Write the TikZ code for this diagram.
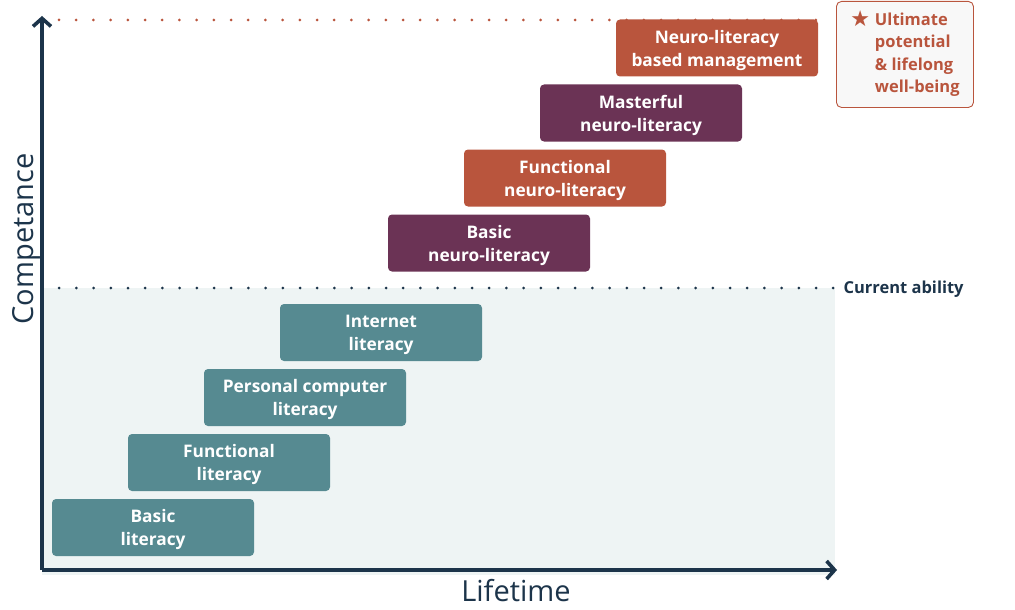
\documentclass[tikz,border=0pt]{standalone}
\usepackage{fontspec}
\setmainfont{Open Sans}
\newfontfamily\symfont{DejaVu Sans}
\usepackage{xcolor}
\usepackage{tikz}
\usetikzlibrary{arrows.meta,positioning}
\definecolor{cnavy}{RGB}{28,52,74}
\definecolor{cteal}{RGB}{86,138,145}
\definecolor{cplum}{RGB}{107,51,85}
\definecolor{crust}{RGB}{185,85,61}
\definecolor{cshade}{RGB}{238,244,244}
\definecolor{cpaper}{RGB}{248,248,248}

\begin{document}
\begin{tikzpicture}[
  x=1pt, y=-1pt,
  font=\fontsize{17.3}{23}\selectfont\bfseries,
  lvl/.style={rounded corners=4pt, text=white, align=center, minimum width=202pt, minimum height=57pt, inner sep=0pt, text height=41pt},
  lit/.style={lvl, fill=cteal},
  neuroA/.style={lvl, fill=cplum},
  neuroB/.style={lvl, fill=crust},
  axis/.style={cnavy, line width=3.6pt, -{Straight Barb[length=8pt,width=18pt,line width=3.6pt]}},
  dots/.style={line width=3pt, line cap=round, dash pattern=on 0pt off 17.2pt}
]
\useasboundingbox (0,0) rectangle (1015,610);
% shaded area below current ability
\fill[cshade] (42,288) rectangle (835,575);

\coordinate (origin) at (42,570);
\coordinate (ytop) at (42,16);
\coordinate (xend) at (837,570);
\coordinate (cur0) at (42,288);
\coordinate (cur1) at (835,288);
\coordinate (top0) at (59,20);
\coordinate (top1) at (830,20);

\draw[dots, cnavy] (cur0) -- (cur1);
\draw[dots, crust] (top0) -- (top1);

% literacy levels
\node[lit] (basic) at (153,527.5) {Basic\\literacy};
\node[lit] (func) at (229,462.5) {Functional\\literacy};
\node[lit] (pc) at (305,397.5) {Personal computer\\literacy};
\node[lit] (inet) at (381,332.5) {Internet\\literacy};

% neuro-literacy levels
\node[neuroA] (nbasic) at (489,243) {Basic\\neuro-literacy};
\node[neuroB] (nfunc) at (565,178) {Functional\\neuro-literacy};
\node[neuroA] (nmaster) at (641,113) {Masterful\\neuro-literacy};
\node[neuroB] (nmanage) at (717,48) {Neuro-literacy\\based management};

\node[anchor=west, text=cnavy, font=\fontsize{16.5}{23}\selectfont\bfseries] (current) at (840,289) {Current ability};
\node[draw=crust, line width=0.9pt, fill=cpaper, rounded corners=5pt, text=crust, align=left,
  font=\fontsize{16.5}{22.5}\selectfont\bfseries,
  minimum width=137pt, minimum height=106pt, anchor=north west, inner sep=0pt] (ultimate) at (836,1)
  {\begin{tabular}{@{}l@{\hspace{5pt}}l@{}}{\symfont\fontsize{22}{15}\selectfont\raisebox{-1pt}{★}} & Ultimate\\ & potential\\ & \& lifelong\\ & well-being\end{tabular}};

% axes
\draw[axis] (origin) -- (ytop);
\draw[axis] (origin) -- (xend);
\node[font=\fontsize{29}{30}\selectfont, text=cnavy, rotate=90] (ylab) at (26,239) {Competance};
\node[font=\fontsize{29}{30}\selectfont, text=cnavy] (xlab) at (516,591) {Lifetime};
\end{tikzpicture}
\end{document}
